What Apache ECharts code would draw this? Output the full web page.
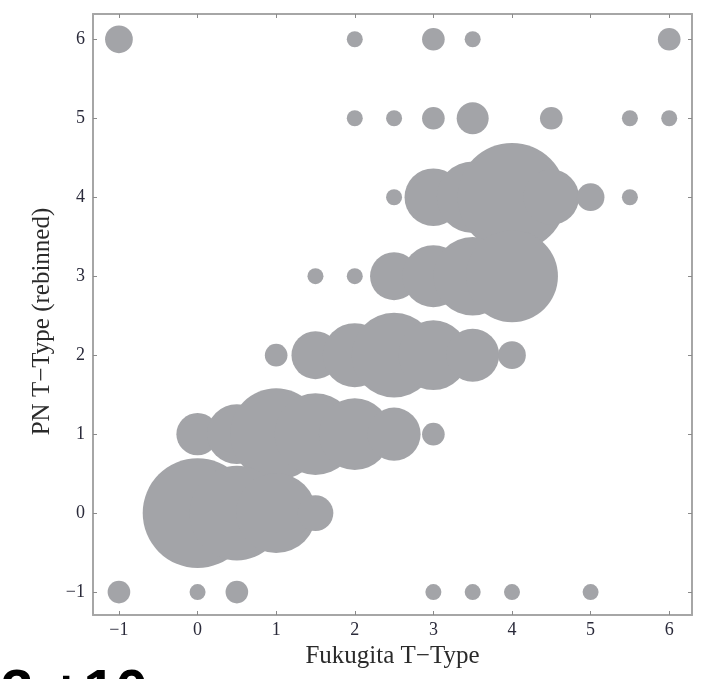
<!DOCTYPE html>
<html>
<head>
<meta charset="utf-8">
<script src="https://cdn.jsdelivr.net/npm/echarts@6/dist/echarts.min.js"></script>
<style>
  html, body { margin: 0; padding: 0; background: #fff; }
  #chart { width: 706px; height: 679px; }
</style>
</head>
<body>
<div id="chart"></div>
<script>
// Galaxy counts per (Fukugita T-Type, PN T-Type rebinned) cell
const fukugita = [
  -1, 2, 3, 3.5, 6,
  2, 2.5, 3, 3.5, 4.5, 5.5, 6,
  2.5, 3, 3.5, 4, 4.5, 5, 5.5,
  1.5, 2, 2.5, 3, 3.5, 4,
  1, 1.5, 2, 2.5, 3, 3.5, 4,
  0, 0.5, 1, 1.5, 2, 2.5, 3,
  0, 0.5, 1, 1.5,
  -1, 0, 0.5, 3, 3.5, 4, 5
];
const pnType = [
  6, 6, 6, 6, 6,
  5, 5, 5, 5, 5, 5, 5,
  4, 4, 4, 4, 4, 4, 4,
  3, 3, 3, 3, 3, 3,
  2, 2, 2, 2, 2, 2, 2,
  1, 1, 1, 1, 1, 1, 1,
  0, 0, 0, 0,
  -1, -1, -1, -1, -1, -1, -1
];
const counts = [
  3, 1, 2, 1, 2,
  1, 1, 2, 4, 2, 1, 1,
  1, 13, 20, 46, 12, 3, 1,
  1, 1, 9, 15, 24, 33,
  2, 9, 16, 28, 19, 11, 3,
  7, 14, 33, 26, 20, 11, 2,
  47, 35, 25, 5,
  2, 1, 2, 1, 1, 1, 1
];
const tickValues = [-1, 0, 1, 2, 3, 4, 5, 6];

const points = fukugita.map((x, i) => [x, pnType[i], counts[i]]);

const serif = "'Liberation Serif', 'DejaVu Serif', serif";
const frameColor = '#a6a6a6';
const fmt = v => String(v).replace('-', '\u2212');

function axisBase(extra) {
  return Object.assign({
    type: 'value',
    splitLine: { show: false },
    axisLine: { show: true, onZero: false, lineStyle: { color: frameColor, width: 2 } },
    axisTick: { show: true, inside: true, length: 4, customValues: tickValues,
                lineStyle: { color: '#8a8a8a', width: 1 } },
    axisLabel: { show: false }
  }, extra);
}

const tickLabel = {
  show: true, customValues: tickValues, formatter: fmt, margin: 7,
  color: '#2a2a3a', fontFamily: serif, fontSize: 18
};
const titleStyle = { fontFamily: serif, fontSize: 25, color: '#2a2a2a' };

const chart = echarts.init(document.getElementById('chart'), null, { renderer: 'canvas' });
chart.setOption({
  animation: false,
  backgroundColor: '#ffffff',
  grid: { left: 93, right: 14, top: 14, bottom: 64, containLabel: false },
  xAxis: [
    axisBase({
      position: 'bottom', min: -1.33, max: 6.29,
      name: 'Fukugita T\u2212Type', nameLocation: 'middle', nameGap: 28,
      nameTextStyle: titleStyle,
      axisLabel: Object.assign({}, tickLabel, { margin: 6 })
    }),
    axisBase({ position: 'top', min: -1.33, max: 6.29 })
  ],
  yAxis: [
    axisBase({
      position: 'left', min: -1.29, max: 6.32,
      name: 'PN T\u2212Type (rebinned)', nameLocation: 'middle', nameGap: 36,
      nameRotate: 90,
      nameTextStyle: Object.assign({}, titleStyle, { padding: [0, 14, 0, 0] }),
      axisLabel: Object.assign({}, tickLabel, { margin: 8 })
    }),
    axisBase({ position: 'right', min: -1.29, max: 6.32 })
  ],
  series: [{
    type: 'scatter',
    data: points,
    symbol: 'circle',
    symbolSize: v => 16 * Math.sqrt(v[2]),
    itemStyle: { color: '#a3a4a8', opacity: 1 },
    emphasis: { disabled: true },
    z: 1
  }],
  graphic: [{
    type: 'text',
    left: 1,
    top: 665,
    style: {
      text: '3 +10',
      font: "bold 58px 'Liberation Sans', Arial, sans-serif",
      fill: '#000'
    }
  }]
});
</script>
</body>
</html>
